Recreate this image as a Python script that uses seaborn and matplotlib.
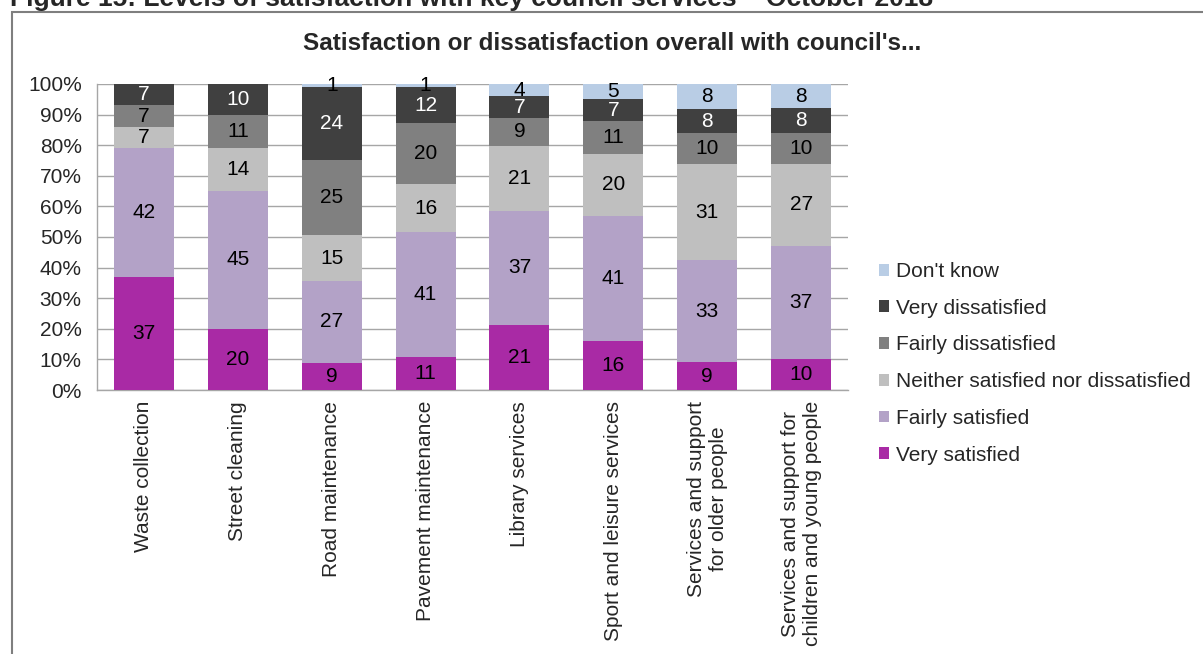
import matplotlib
matplotlib.use("Agg")
import matplotlib.pyplot as plt
import seaborn as sns
import numpy as np
import pandas as pd
from matplotlib.patches import Patch, Rectangle

services = ["Waste collection", "Street cleaning", "Road maintenance", "Pavement maintenance",
            "Library services", "Sport and leisure services",
            "Services and support\nfor older people",
            "Services and support for\nchildren and young people"]
levels = ["Very satisfied", "Fairly satisfied", "Neither satisfied nor dissatisfied",
          "Fairly dissatisfied", "Very dissatisfied", "Don't know"]
very_satisfied = [37, 20, 9, 11, 21, 16, 9, 10]
fairly_satisfied = [42, 45, 27, 41, 37, 41, 33, 37]
neither = [7, 14, 15, 16, 21, 20, 31, 27]
fairly_dissatisfied = [7, 11, 25, 20, 9, 11, 10, 10]
very_dissatisfied = [7, 10, 24, 12, 7, 7, 8, 8]
dont_know = [0, 0, 1, 1, 4, 5, 8, 8]
series = [very_satisfied, fairly_satisfied, neither, fairly_dissatisfied, very_dissatisfied, dont_know]
colors = ["#A92AA5", "#B3A2C7", "#BFBFBF", "#808080", "#404040", "#B9CDE5"]
label_colors = ["black", "black", "black", "black", "white", "black"]

sns.set_style("white")
plt.rcParams['font.family'] = ['Liberation Sans', 'DejaVu Sans']

fig = plt.figure(figsize=(12.03, 6.54), dpi=100)
ax = fig.add_axes([97/1203, 1-390/654, (848-97)/1203, (390-84)/654])

vals = np.array(series, dtype=float)
totals = vals.sum(axis=0)
pct = vals / totals * 100
bottom = np.zeros(len(services))
for i, lvl in enumerate(levels):
    df = pd.DataFrame({"service": services, "value": pct[i]})
    sns.barplot(data=df, x="service", y="value", bottom=bottom, color=colors[i],
                width=0.64, ax=ax, saturation=1, edgecolor="none", linewidth=0, zorder=3)
    for j in range(len(services)):
        if series[i][j] > 0:
            ax.text(j, bottom[j] + pct[i][j] / 2, str(series[i][j]), ha="center", va="center",
                    fontsize=15, color=label_colors[i], zorder=5)
    bottom = bottom + pct[i]

ax.set_ylim(0, 100)
ax.set_xlim(-0.5, len(services) - 0.5)
ax.set_yticks(np.arange(0, 101, 10))
ax.set_yticklabels([f"{v}%" for v in range(0, 101, 10)], fontsize=15)
ax.yaxis.grid(True, color="#A6A6A6", linewidth=1, zorder=0)
ax.set_axisbelow(True)
ax.tick_params(axis="y", length=0, pad=11)
ax.tick_params(axis="x", length=0, pad=8)
ax.set_xticks(range(len(services)))
ax.set_xticklabels(services, rotation=90, fontsize=15, ha="center", va="top", multialignment="center")
ax.set_xlabel("")
ax.set_ylabel("")
for s in ["top", "right"]:
    ax.spines[s].set_visible(False)
for s in ["left", "bottom"]:
    ax.spines[s].set_color("#A6A6A6")
    ax.spines[s].set_linewidth(1)

handles = [Patch(facecolor=colors[i], edgecolor="none", label=levels[i]) for i in range(len(levels))][::-1]
fig.legend(handles=handles, loc="upper left", bbox_to_anchor=(879/1203, 1-262/654),
           frameon=False, fontsize=15, handlelength=0.5, handleheight=0.5,
           handletextpad=0.3, labelspacing=0.85, borderaxespad=0, borderpad=0)

fig.text(612/1203, 1-44/654, "Satisfaction or dissatisfaction overall with council's...",
         ha="center", va="center", fontsize=17.5, fontweight="bold")
fig.text(10/1203, 1-6/654, "Figure 15: Levels of satisfaction with key council services \u2013 October 2018",
         ha="left", va="baseline", fontsize=19, fontweight="bold")
fig.patches.append(Rectangle((12/1203, -0.05), 1.2, 1-12/654+0.05, transform=fig.transFigure,
                             fill=False, edgecolor="#7F7F7F", linewidth=1.5))

fig.savefig("out.png", dpi=100)
